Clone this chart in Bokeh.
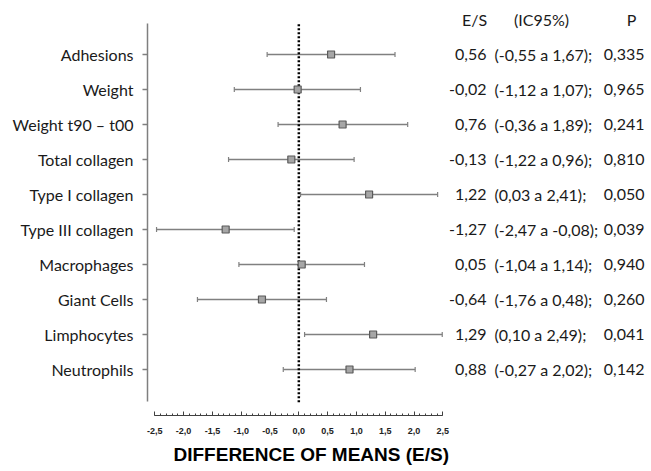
from bokeh.plotting import figure
from bokeh.models import (Range1d, LinearAxis, FixedTicker, Whisker, TeeHead,
                          ColumnDataSource, Title)
from bokeh.core.properties import value
from bokeh.embed import file_html
from bokeh.resources import INLINE

# ---------------- data ----------------
categories = ["Adhesions", "Weight", "Weight t90 – t00", "Total collagen",
              "Type I collagen", "Type III collagen", "Macrophages",
              "Giant Cells", "Limphocytes", "Neutrophils"]
effect_size = [0.56, -0.02, 0.76, -0.13, 1.22, -1.27, 0.05, -0.64, 1.29, 0.88]
ci_low = [-0.55, -1.12, -0.36, -1.22, 0.03, -2.47, -1.04, -1.76, 0.10, -0.27]
ci_high = [1.67, 1.07, 1.89, 0.96, 2.41, -0.08, 1.14, 0.48, 2.49, 2.02]
p_values = ["0,335", "0,965", "0,241", "0,810", "0,050",
            "0,039", "0,940", "0,260", "0,041", "0,142"]
x_ticks = [-2.5, -2.0, -1.5, -1.0, -0.5, 0.0, 0.5, 1.0, 1.5, 2.0, 2.5]
x_tick_labels = ["-2,5", "-2,0", "-1,5", "-1,0", "-0,5", "0,0",
                 "0,5", "1,0", "1,5", "2,0", "2,5"]
headers = ["E/S", "(IC95%)", "P"]
x_title = "DIFFERENCE OF MEANS (E/S)"


def fmt(v):
    return f"{v:.2f}".replace(".", ",")


n = len(categories)
ypos = [n - i for i in range(n)]

src = ColumnDataSource(dict(
    y=ypos, es=effect_size, lo=ci_low, hi=ci_high,
    es_txt=[fmt(v) for v in effect_size],
    ci_txt=[f"({fmt(a)} a {fmt(b)});" for a, b in zip(ci_low, ci_high)],
    p_txt=p_values,
))

# ---------------- layout constants ----------------
X0, X1 = -2.627, 6.123
Y0, Y1 = -0.314, n + 1.543
AXIS_TOP = n + 0.886
AXIS_BOTTOM = 0.094
ZERO_BOTTOM = 0.066

p = figure(width=651, height=471, output_backend="svg", toolbar_location=None,
           x_range=Range1d(X0, X1), y_range=Range1d(Y0, Y1),
           x_axis_location=None, y_axis_location=None,
           min_border_left=147, min_border_right=0, min_border_top=0,
           min_border_bottom=56)
p.outline_line_color = None
p.xgrid.visible = False
p.ygrid.visible = False
p.background_fill_color = "white"
p.border_fill_color = "white"

# left category axis
yaxis = LinearAxis(ticker=FixedTicker(ticks=ypos),
                   bounds=(AXIS_BOTTOM, AXIS_TOP),
                   major_label_overrides={y: c for y, c in zip(ypos, categories)})
yaxis.axis_line_color = "#7f7f7f"
yaxis.axis_line_width = 1.5
yaxis.major_tick_line_color = "#7f7f7f"
yaxis.major_tick_line_width = 1.5
yaxis.major_tick_out = 5
yaxis.major_tick_in = 0
yaxis.minor_tick_line_color = None
yaxis.major_label_standoff = 9
yaxis.major_label_text_font = "Lato"
yaxis.major_label_text_font_size = "16px"
yaxis.major_label_text_color = "#1a1a1a"
p.add_layout(yaxis, "left")

# bottom numeric axis
minor = [round(-2.5 + 0.1 * i, 1) for i in range(51)]
xaxis = LinearAxis(ticker=FixedTicker(ticks=x_ticks, minor_ticks=minor),
                   bounds=(x_ticks[0], x_ticks[-1]),
                   major_label_overrides={t: l for t, l in zip(x_ticks, x_tick_labels)})
xaxis.axis_line_color = "#404040"
xaxis.axis_line_width = 1
xaxis.major_tick_line_color = "#404040"
xaxis.major_tick_in = 4
xaxis.major_tick_out = 0
xaxis.minor_tick_line_color = "#404040"
xaxis.minor_tick_in = 2
xaxis.minor_tick_out = 0
xaxis.major_label_standoff = 12
xaxis.major_label_text_font = "Liberation Sans"
xaxis.major_label_text_font_style = "bold"
xaxis.major_label_text_font_size = "9px"
xaxis.major_label_text_color = "#222222"
p.add_layout(xaxis, "below")

p.add_layout(Title(text=x_title, align="left", offset=26, standoff=11,
                   text_font="Liberation Sans", text_font_style="bold",
                   text_font_size="19px", text_color="#000000"), "below")

# zero reference line
p.line(x=[0, 0], y=[ZERO_BOTTOM, AXIS_TOP], line_color="black", line_width=2.5,
       line_dash="2 2")

# confidence intervals
p.add_layout(Whisker(source=src, base="y", lower="lo", upper="hi",
                     dimension="width", line_color="#808080", line_width=1.5,
                     lower_head=TeeHead(size=5, line_color="#808080", line_width=1.2),
                     upper_head=TeeHead(size=5, line_color="#808080", line_width=1.2)))

p.scatter(x="es", y="y", source=src, marker="square", size=7,
          fill_color="#a6a6a6", line_color="#5a5a5a", line_width=1.2)

# table on the right
tfont = value("Lato")
p.text(x=X1, y="y", text="es_txt", source=src, x_offset=-165,
       text_align="right", text_baseline="middle", text_font=tfont,
       text_font_size="16px", text_color="#1a1a1a")
p.text(x=X1, y="y", text="ci_txt", source=src, x_offset=-157,
       text_align="left", text_baseline="middle", text_font=tfont,
       text_font_size="16px", text_color="#1a1a1a")
p.text(x=X1, y="y", text="p_txt", source=src, x_offset=-7,
       text_align="right", text_baseline="middle", text_font=tfont,
       text_font_size="16px", text_color="#1a1a1a")
p.text(x=[X1] * 3, y=[n + 1] * 3, text=headers, x_offset=[-177, -110, -20],
       text_align="center", text_baseline="middle", text_font=tfont,
       text_font_size="16px", text_color="#1a1a1a")

open("out.html", "w").write(file_html(p, INLINE))
